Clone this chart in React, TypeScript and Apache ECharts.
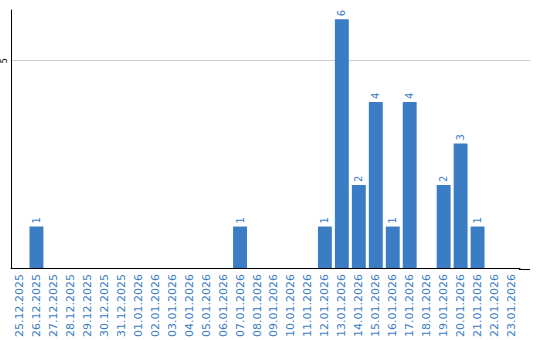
import React, { useEffect, useRef } from "react";
import * as echarts from "echarts";

const categories = [
  "25.12.2025", "26.12.2025", "27.12.2025", "28.12.2025", "29.12.2025", "30.12.2025", "31.12.2025",
  "01.01.2026", "02.01.2026", "03.01.2026", "04.01.2026", "05.01.2026", "06.01.2026", "07.01.2026",
  "08.01.2026", "09.01.2026", "10.01.2026", "11.01.2026", "12.01.2026", "13.01.2026", "14.01.2026",
  "15.01.2026", "16.01.2026", "17.01.2026", "18.01.2026", "19.01.2026", "20.01.2026", "21.01.2026",
  "22.01.2026", "23.01.2026",
];

const counts: (number | null)[] = [
  null, 1, null, null, null, null, null,
  null, null, null, null, null, null, 1,
  null, null, null, null, 1, 6, 2,
  4, 1, 4, null, 2, 3, 1,
  null, null,
];

const yMax = 6.22;
const yInterval = 5;

export default function App() {
  const ref = useRef<HTMLDivElement>(null);
  useEffect(() => {
    if (!ref.current) return;
    const chart = echarts.init(ref.current, undefined, { renderer: "svg" });
    chart.setOption({
      animation: false,
      grid: { left: 10, right: 20, top: 10, bottom: 70, containLabel: false },
      graphic: [
        {
          type: "line",
          shape: { x1: 519, y1: 269.5, x2: 530, y2: 269.5 },
          style: { stroke: "#000", lineWidth: 1 },
        },
        {
          type: "line",
          shape: { x1: 519, y1: 60.5, x2: 530, y2: 60.5 },
          style: { stroke: "#cccccc", lineWidth: 1 },
        },
      ],
      xAxis: {
        type: "category",
        data: categories,
        axisLine: { lineStyle: { color: "#000", width: 1 } },
        axisTick: { show: false },
        axisLabel: {
          rotate: 90,
          interval: 0,
          color: "#3a7dc3",
          fontFamily: "DejaVu Sans",
          fontSize: 11,
          margin: 6,
        },
      },
      yAxis: {
        type: "value",
        min: 0,
        max: yMax,
        interval: yInterval,
        axisLine: { show: true, lineStyle: { color: "#000", width: 1 } },
        axisTick: { show: false },
        axisLabel: {
          rotate: 90,
          fontSize: 8,
          color: "#000",
          fontFamily: "DejaVu Sans",
          margin: 3,
          formatter: (v: number) => (v === 5 ? "5" : ""),
        },
        splitLine: { show: true, showMinLine: false, showMaxLine: false, lineStyle: { color: "#cccccc", width: 1 } },
      },
      series: [
        {
          type: "bar",
          data: counts,
          barCategoryGap: "18%",
          itemStyle: { color: "#3b7dc4" },
          label: {
            show: true,
            position: "top",
            rotate: 90,
            align: "left",
            verticalAlign: "middle",
            distance: 3,
            color: "#3a7dc3",
            fontFamily: "DejaVu Sans",
            fontSize: 10,
          },
        },
      ],
    });
    return () => chart.dispose();
  }, []);
  return <div ref={ref} style={{ width: 540, height: 340, position: "absolute", left: 0, top: 0 }} />;
}
